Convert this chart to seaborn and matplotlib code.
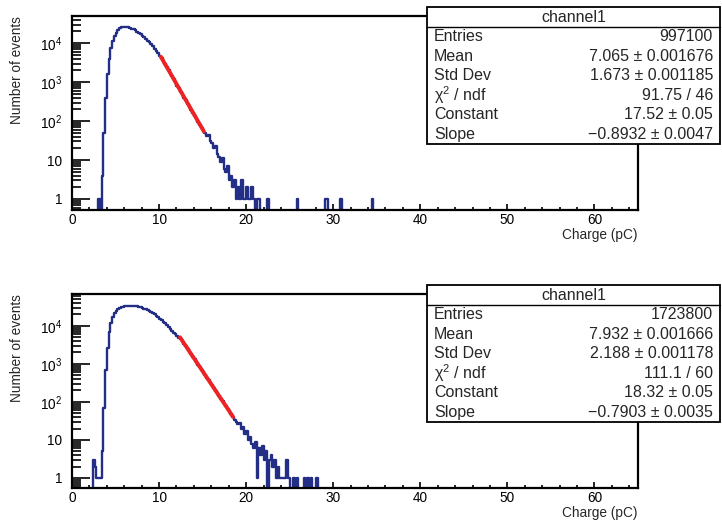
import numpy as np
import pandas as pd
import matplotlib
matplotlib.use("Agg")
import matplotlib.pyplot as plt
from matplotlib.lines import Line2D
from matplotlib.patches import Rectangle
from matplotlib.ticker import LogLocator, MultipleLocator, NullFormatter
import seaborn as sns

# --- data (0.2 pC bins) ------------------------------------------------------
BIN_WIDTH = 0.2
X_TICKS = [0, 10, 20, 30, 40, 50, 60]
Y_TICKS = [1, 10, 100, 1000, 10000]
Y_TICK_LABELS = ["1", "10", "$10^{2}$", "$10^{3}$", "$10^{4}$"]

# top spectrum: first bin starts at 3.0 pC
TOP_START = 3.0
TOP_COUNTS = [
    1, 0, 4, 50, 400, 1600, 4000, 7500, 11500, 15200,
    18800, 21800, 24000, 25500, 26300, 26600, 26400, 25800, 24900, 23800,
    22600, 21300, 19900, 18500, 17100, 15700, 14300, 13000, 11700, 10500,
    9400, 8300, 7300, 6400, 5550, 4800, 4150, 3460, 2880, 2410,
    2000, 1690, 1400, 1170, 985, 815, 690, 570, 482, 398,
    338, 278, 236, 194, 166, 135, 116, 94, 81, 66,
    57, 48, 41, 45, 31, 28, 20, 23, 14, 12,
    9, 11, 6, 5, 7, 3, 4, 2, 3, 1,
    2, 1, 3, 1, 1, 2, 1, 1, 2, 1,
    0, 1, 1, 0, 0, 0, 0, 1,
]
TOP_TAIL_X = [25.9, 29.1, 29.3, 30.9, 34.5]
TOP_TAIL_N = [1, 1, 1, 1, 1]
TOP_FIT = (17.52, -0.8932)
TOP_FIT_RANGE = [10.2, 15.15]
TOP_YLIM = (0.52, 5.0e4)
TOP_STATS = ["997100", "7.065 \u00b1 0.001676", "1.673 \u00b1 0.001185",
             "91.75 / 46", "17.52 \u00b1 0.05", "\u22120.8932 \u00b1 0.0047"]

# bottom spectrum: first bin starts at 2.4 pC
BOT_START = 2.4
BOT_COUNTS = [
    3, 2, 1, 1, 1, 5, 70, 700, 2600, 7000,
    12000, 17500, 22000, 25300, 27700, 29400, 30700, 31800, 32700, 33300,
    33700, 33900, 33900, 33700, 33300, 32700, 31900, 30900, 29800, 28600,
    27300, 25900, 24500, 23000, 21500, 20000, 18500, 17000, 15600, 14200,
    12900, 11700, 10500, 9400, 8400, 7500, 6700, 5950, 5300, 4750,
    4620, 3960, 3370, 2890, 2460, 2110, 1795, 1540, 1310, 1125,
    955, 820, 700, 595, 512, 434, 374, 316, 273, 231,
    199, 168, 146, 123, 107, 89, 78, 65, 57, 47,
    41, 33, 30, 26, 28, 20, 22, 14, 17, 10,
    12, 8, 6, 9, 1, 6, 4, 7, 3, 5,
    0, 3, 4, 2, 3, 1, 2, 1, 1, 1,
    1, 3, 1,
]
BOT_TAIL_X = [25.5, 25.9, 26.7, 27.1, 27.5, 28.1]
BOT_TAIL_N = [1, 1, 1, 1, 1, 1]
BOT_FIT = (18.32, -0.7903)
BOT_FIT_RANGE = [12.4, 18.5]
BOT_YLIM = (0.545, 6.9e4)
BOT_STATS = ["1723800", "7.932 \u00b1 0.001666", "2.188 \u00b1 0.001178",
             "111.1 / 60", "18.32 \u00b1 0.05", "\u22120.7903 \u00b1 0.0035"]

STAT_NAMES = ["Entries", "Mean", "Std Dev", r"$\chi^{2}$ / ndf", "Constant", "Slope"]

HIST_COLOR = "#232f86"
FIT_COLOR = "#ee2222"

# --- style -------------------------------------------------------------------
sns.set_theme(style="white")
plt.rcParams.update({
    "font.family": ["Liberation Sans", "DejaVu Sans"],
    "mathtext.fontset": "custom",
    "mathtext.rm": "Liberation Sans",
    "mathtext.it": "Liberation Sans:italic",
    "mathtext.bf": "Liberation Sans:bold",
    "mathtext.default": "regular",
    "axes.linewidth": 1.5,
    "axes.edgecolor": "black",
})

W, H = 722, 521
fig = plt.figure(figsize=(W / 100, H / 100), dpi=100)


def panel(top_px, start, counts, tail_x, tail_n, fit, fit_range, ylim):
    ax = fig.add_axes([72 / W, 1 - (top_px + 194) / H, 566 / W, 194 / H])
    centers = start + BIN_WIDTH * (np.arange(len(counts)) + 0.5)
    df = pd.DataFrame({"charge": np.concatenate([centers, tail_x]),
                       "n": np.concatenate([counts, tail_n])})
    sns.histplot(data=df, x="charge", weights="n", binwidth=BIN_WIDTH,
                 binrange=(2.0, 36.0), element="step", fill=False,
                 color=HIST_COLOR, linewidth=1.7, ax=ax)
    fx = np.array(fit_range)
    sns.lineplot(x=fx, y=np.exp(fit[0] + fit[1] * fx), color=FIT_COLOR,
                 linewidth=2.8, ax=ax)
    ax.set_yscale("log")
    ax.set_xlim(0, 65)
    ax.set_ylim(*ylim)
    ax.set_xticks(X_TICKS, labels=[str(t) for t in X_TICKS])
    ax.xaxis.set_minor_locator(MultipleLocator(2))
    ax.set_yticks(Y_TICKS, labels=Y_TICK_LABELS)
    ax.yaxis.set_minor_locator(LogLocator(base=10, subs=np.arange(2, 10)))
    ax.yaxis.set_minor_formatter(NullFormatter())
    ax.tick_params(which="both", direction="in", colors="black", width=1.2,
                   labelsize=9.8, bottom=True, left=True, top=False, right=False)
    ax.tick_params(axis="x", which="major", length=4.5, pad=2)
    ax.tick_params(axis="x", which="minor", length=2.2)
    ax.tick_params(axis="y", which="major", length=13, pad=7)
    ax.tick_params(axis="y", which="minor", length=6.5)
    ax.set_ylabel("Number of events", fontsize=9.8, loc="top")
    ax.yaxis.set_label_coords(-0.085, 1.0)
    ax.set_xlabel("Charge (pC)", fontsize=9.8, loc="right")
    ax.xaxis.set_label_coords(1.0, -0.095)
    for s in ax.spines.values():
        s.set_linewidth(1.6)
    return ax


def stats_box(top, values):
    left, right = 427, 720
    title_h, row_h = 20, 19.5
    height = title_h + row_h * len(values)
    fig.add_artist(Rectangle((left / W, 1 - (top + height) / H),
                             (right - left) / W, height / H,
                             transform=fig.transFigure, facecolor="white",
                             edgecolor="black", linewidth=1.3))
    fig.add_artist(Line2D([left / W, right / W], [1 - (top + title_h) / H] * 2,
                          transform=fig.transFigure, color="black", linewidth=1.0))
    fig.text((left + right) / 2 / W, 1 - (top + title_h / 2) / H, "channel1",
             ha="center", va="center", fontsize=11.5)
    for i, (name, val) in enumerate(zip(STAT_NAMES, values)):
        y = 1 - (top + title_h + row_h * (i + 0.5)) / H
        fig.text((left + 7) / W, y, name, ha="left", va="center", fontsize=11.5)
        fig.text((right - 7) / W, y, val, ha="right", va="center", fontsize=11.5)


panel(16, TOP_START, TOP_COUNTS, TOP_TAIL_X, TOP_TAIL_N, TOP_FIT, TOP_FIT_RANGE, TOP_YLIM)
panel(294, BOT_START, BOT_COUNTS, BOT_TAIL_X, BOT_TAIL_N, BOT_FIT, BOT_FIT_RANGE, BOT_YLIM)
stats_box(7, TOP_STATS)
stats_box(285, BOT_STATS)

fig.savefig("out.png", dpi=100, facecolor="white")
